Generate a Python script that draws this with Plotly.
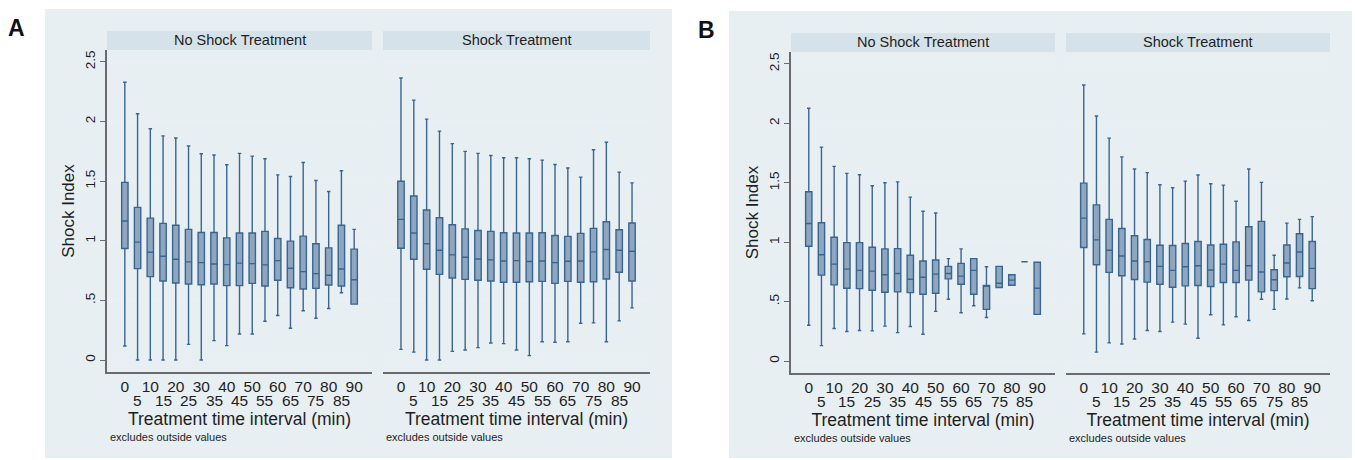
import plotly.graph_objects as go

W, H = 1355, 460

minutes = [0, 5, 10, 15, 20, 25, 30, 35, 40, 45, 50, 55, 60, 65, 70, 75, 80, 85, 90]
row1_ticks = [0, 10, 20, 30, 40, 50, 60, 70, 80, 90]
row2_ticks = [5, 15, 25, 35, 45, 55, 65, 75, 85]
y_ticks = [0, 0.5, 1, 1.5, 2, 2.5]
y_tick_text = ["0", ".5", "1", "1.5", "2", "2.5"]
panel_titles = ["No Shock Treatment", "Shock Treatment"]

# Panel A - No Shock Treatment
a_no_lo = [0.118, 0, 0, 0, 0, 0.132, 0, 0.163, 0.121, 0.219, 0.219, 0.326, 0.374, 0.267, 0.413, 0.351, 0.433, 0.565, 0.469]
a_no_q1 = [0.935, 0.767, 0.70, 0.663, 0.646, 0.638, 0.632, 0.638, 0.624, 0.624, 0.643, 0.621, 0.669, 0.607, 0.596, 0.601, 0.629, 0.621, 0.469]
a_no_med = [1.166, 0.989, 0.904, 0.871, 0.846, 0.823, 0.817, 0.806, 0.80, 0.813, 0.809, 0.798, 0.834, 0.77, 0.742, 0.725, 0.711, 0.764, 0.674]
a_no_q3 = [1.49, 1.28, 1.19, 1.146, 1.13, 1.096, 1.07, 1.07, 1.025, 1.065, 1.065, 1.079, 1.02, 0.997, 1.039, 0.975, 0.941, 1.13, 0.93]
a_no_hi = [2.33, 2.065, 1.94, 1.88, 1.862, 1.795, 1.73, 1.72, 1.638, 1.733, 1.71, 1.688, 1.553, 1.539, 1.657, 1.506, 1.413, 1.587, 1.096]

# Panel A - Shock Treatment
a_sh_lo = [0.09, 0.067, 0, 0, 0.073, 0.084, 0.104, 0.143, 0.138, 0.084, 0.037, 0.154, 0.149, 0.154, 0.309, 0.312, 0.154, 0.329, 0.438]
a_sh_q1 = [0.938, 0.846, 0.761, 0.719, 0.688, 0.677, 0.669, 0.663, 0.652, 0.652, 0.657, 0.66, 0.643, 0.66, 0.652, 0.657, 0.68, 0.736, 0.663]
a_sh_med = [1.18, 1.065, 0.975, 0.921, 0.882, 0.862, 0.848, 0.84, 0.831, 0.834, 0.826, 0.831, 0.817, 0.829, 0.831, 0.907, 0.927, 0.921, 0.913]
a_sh_q3 = [1.5, 1.376, 1.258, 1.194, 1.135, 1.10, 1.087, 1.079, 1.067, 1.065, 1.065, 1.067, 1.045, 1.037, 1.062, 1.104, 1.16, 1.093, 1.149]
a_sh_hi = [2.365, 2.18, 2.02, 1.92, 1.815, 1.75, 1.733, 1.716, 1.697, 1.697, 1.688, 1.677, 1.64, 1.61, 1.534, 1.764, 1.826, 1.576, 1.486]

# Panel B - No Shock Treatment
b_no_lo = [0.302, 0.13, 0.274, 0.249, 0.257, 0.254, 0.294, 0.24, 0.291, 0.226, 0.418, 0.52, 0.407, 0.466, 0.367, 0.619, 0.638, 0.836, 0.393]
b_no_q1 = [0.966, 0.723, 0.641, 0.613, 0.61, 0.596, 0.579, 0.582, 0.576, 0.562, 0.571, 0.692, 0.647, 0.562, 0.435, 0.619, 0.638, 0.836, 0.393]
b_no_med = [1.158, 0.895, 0.816, 0.774, 0.763, 0.757, 0.726, 0.737, 0.689, 0.706, 0.732, 0.737, 0.715, 0.763, 0.63, 0.655, 0.681, 0.836, 0.613]
b_no_q3 = [1.424, 1.164, 1.042, 0.997, 0.997, 0.958, 0.944, 0.946, 0.89, 0.842, 0.85, 0.797, 0.822, 0.862, 0.637, 0.797, 0.726, 0.836, 0.831]
b_no_hi = [2.127, 1.80, 1.638, 1.579, 1.568, 1.475, 1.50, 1.508, 1.379, 1.26, 1.246, 0.862, 0.944, 0.862, 0.794, 0.797, 0.726, 0.836, 0.831]

# Panel B - Shock Treatment
b_sh_lo = [0.229, 0.076, 0.153, 0.144, 0.186, 0.257, 0.249, 0.328, 0.311, 0.192, 0.39, 0.305, 0.373, 0.342, 0.52, 0.435, 0.523, 0.616, 0.508]
b_sh_q1 = [0.955, 0.811, 0.746, 0.718, 0.686, 0.664, 0.647, 0.621, 0.633, 0.636, 0.627, 0.661, 0.661, 0.681, 0.582, 0.593, 0.709, 0.712, 0.61]
b_sh_med = [1.203, 1.02, 0.932, 0.884, 0.842, 0.836, 0.797, 0.763, 0.794, 0.802, 0.766, 0.816, 0.763, 0.802, 0.749, 0.684, 0.825, 0.918, 0.78]
b_sh_q3 = [1.497, 1.314, 1.192, 1.116, 1.054, 1.023, 0.975, 0.972, 0.989, 1.006, 0.977, 0.983, 1.003, 1.13, 1.175, 0.768, 0.977, 1.071, 1.006]
b_sh_hi = [2.322, 2.062, 1.876, 1.718, 1.616, 1.585, 1.483, 1.458, 1.514, 1.565, 1.492, 1.48, 1.345, 1.616, 1.503, 0.89, 1.161, 1.192, 1.215]

FONT = "Arial, Liberation Sans, sans-serif"
BG = "#e8eff3"
STRIP = "#d6e2e9"
GRID = "#e9eff3"
AXIS = "#6b6b6b"
BOX_LINE = "#3a6590"
BOX_FILL = "#8ea6bf"
TXT = "#1e1e1e"


def px(x):
    return x / W


def py(y):
    return 1 - y / H


panels = [
    dict(x0=107, x1=372, yt=50, yb=372, st=31, data=(a_no_lo, a_no_q1, a_no_med, a_no_q3, a_no_hi), title=panel_titles[0], yaxis_on=True),
    dict(x0=383, x1=650, yt=50, yb=372, st=31, data=(a_sh_lo, a_sh_q1, a_sh_med, a_sh_q3, a_sh_hi), title=panel_titles[1], yaxis_on=False),
    dict(x0=791, x1=1055, yt=52, yb=373, st=33, data=(b_no_lo, b_no_q1, b_no_med, b_no_q3, b_no_hi), title=panel_titles[0], yaxis_on=True),
    dict(x0=1066, x1=1330, yt=52, yb=373, st=33, data=(b_sh_lo, b_sh_q1, b_sh_med, b_sh_q3, b_sh_hi), title=panel_titles[1], yaxis_on=False),
]

fig = go.Figure()
shapes = []
annotations = []

for (x0, x1, y0, y1) in [(45, 672, 9, 458), (729, 1352, 11, 458)]:
    shapes.append(dict(type="rect", xref="paper", yref="paper", x0=px(x0), x1=px(x1),
                       y0=py(y1), y1=py(y0), fillcolor=BG, line=dict(width=0), layer="below"))

for i, p in enumerate(panels):
    n = "" if i == 0 else str(i + 1)
    xa, ya = "x" + n, "y" + n
    lo, q1, med, q3, hi = p["data"]
    fig.add_trace(go.Box(
        x=minutes, q1=q1, median=med, q3=q3, lowerfence=lo, upperfence=hi,
        width=2.5, whiskerwidth=0.55, boxpoints=False,
        line=dict(color=BOX_LINE, width=1.4), fillcolor=BOX_FILL,
        xaxis=xa, yaxis=ya, showlegend=False, hoverinfo="skip",
    ))
    fig.layout["xaxis" + n] = dict(
        domain=[px(p["x0"]), px(p["x1"])], anchor=ya, range=[-7, 97],
        tickmode="array", tickvals=row1_ticks, ticktext=[str(v) for v in row1_ticks],
        ticks="", showgrid=False, zeroline=False, showline=True, linecolor=AXIS, linewidth=1.5,
        tickfont=dict(family=FONT, size=15.5, color=TXT), ticklabelstandoff=0,
        title=dict(text="Treatment time interval (min)", font=dict(family=FONT, size=17.5, color=TXT), standoff=18),
    )
    fig.layout["yaxis" + n] = dict(
        domain=[py(p["yb"]), py(p["yt"])], anchor=xa, range=[-0.1, 2.6],
        tickmode="array", tickvals=y_ticks, ticktext=y_tick_text,
        showticklabels=p["yaxis_on"], ticks="outside" if p["yaxis_on"] else "", ticklen=5, tickcolor=AXIS,
        tickangle=-90, tickfont=dict(family=FONT, size=13.5, color=TXT),
        showgrid=True, gridcolor=GRID, gridwidth=1.5, zeroline=False,
        showline=p["yaxis_on"], linecolor=AXIS, linewidth=1.5,
        title=dict(text="Shock Index" if p["yaxis_on"] else "", font=dict(family=FONT, size=17, color=TXT), standoff=4),
    )
    shapes.append(dict(type="rect", xref="paper", yref="paper", x0=px(p["x0"]), x1=px(p["x1"]),
                       y0=py(p["yt"]), y1=py(p["st"]), fillcolor=STRIP, line=dict(width=0), layer="below"))
    annotations.append(dict(text=p["title"], xref="paper", yref="paper",
                            x=px((p["x0"] + p["x1"]) / 2), y=py((p["yt"] + p["st"]) / 2),
                            showarrow=False, xanchor="center", yanchor="middle",
                            font=dict(family=FONT, size=14.5, color=TXT)))
    for v in row2_ticks:
        annotations.append(dict(text=str(v), xref=xa, yref="paper", x=v, y=py(p["yb"] + 28),
                                showarrow=False, xanchor="center", yanchor="middle",
                                font=dict(family=FONT, size=15.5, color=TXT)))
    annotations.append(dict(text="excludes outside values", xref="paper", yref="paper",
                            x=px(p["x0"] + 1), y=py(p["yb"] + 65), showarrow=False,
                            xanchor="left", yanchor="middle",
                            font=dict(family=FONT, size=11, color=TXT)))

for lab, x, y in [("A", 16, 28), ("B", 706, 30)]:
    annotations.append(dict(text="<b>" + lab + "</b>", xref="paper", yref="paper", x=px(x), y=py(y),
                            showarrow=False, xanchor="center", yanchor="middle",
                            font=dict(family=FONT, size=23, color="#111")))

fig.update_layout(
    width=W, height=H, margin=dict(l=0, r=0, t=0, b=0),
    paper_bgcolor="white", plot_bgcolor="white",
    shapes=shapes, annotations=annotations, showlegend=False,
)

fig.write_html("out.html", config={"displayModeBar": False},
               post_script="document.body.style.margin='0';document.body.style.overflow='hidden';")
